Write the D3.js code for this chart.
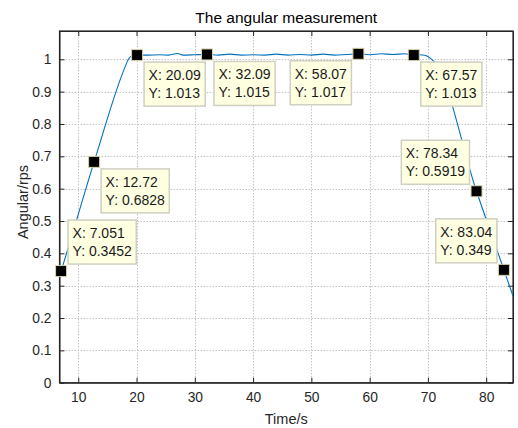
<!DOCTYPE html>
<html>
<head>
<meta charset="utf-8">
<script src="https://cdn.jsdelivr.net/npm/d3@7"></script>
<style>
html,body{margin:0;padding:0;background:#fff;}
svg{display:block;font-family:"Liberation Sans",Arial,sans-serif;}
</style>
</head>
<body>
<svg id="chart" width="518" height="428"></svg>
<script>
// ---- data ----
const timeValues = [6.8, 7.051, 12.72, 18.0, 18.6, 19.2, 20.09, 22, 24, 25.5, 27, 28, 30, 32.09, 34, 36, 38, 40, 42, 44, 46, 48, 50, 52, 54, 56, 58.07, 60, 62, 64, 66, 67.57, 68.6, 69.6, 70.2, 70.7, 71.2, 78.34, 83.04, 84.6];
const angularValues = [0.331, 0.3452, 0.6828, 0.975, 1.0, 1.011, 1.013, 1.013, 1.014, 1.013, 1.018, 1.013, 1.014, 1.015, 1.013, 1.016, 1.013, 1.014, 1.013, 1.016, 1.013, 1.015, 1.013, 1.016, 1.013, 1.015, 1.017, 1.014, 1.017, 1.015, 1.017, 1.013, 1.014, 1.012, 1.006, 0.999, 0.990, 0.5919, 0.349, 0.268];
const tipX = [7.051, 12.72, 20.09, 32.09, 58.07, 67.57, 78.34, 83.04];
const tipY = [0.3452, 0.6828, 1.013, 1.015, 1.017, 1.013, 0.5919, 0.349];
const tipXLabels = ["7.051", "12.72", "20.09", "32.09", "58.07", "67.57", "78.34", "83.04"];
const tipYLabels = ["0.3452", "0.6828", "1.013", "1.015", "1.017", "1.013", "0.5919", "0.349"];
// placement of each datatip box relative to its marker: "dr" down-right, "dl" down-left, "ur" up-right, "ul" up-left
const tipPlacement = ["ur", "dr", "dr", "dr", "dl", "dr", "ul", "ul"];
const xTicks = [10, 20, 30, 40, 50, 60, 70, 80];
const yTicks = [0, 0.1, 0.2, 0.3, 0.4, 0.5, 0.6, 0.7, 0.8, 0.9, 1];
const xDomain = [6.78, 84.6];
const yDomain = [0, 1.0875];

// ---- layout ----
const svg = d3.select("#chart");
const L = 59.5, R = 513, T = 31, B = 382.7;
const x = d3.scaleLinear().domain(xDomain).range([L, R]);
const y = d3.scaleLinear().domain(yDomain).range([B, T]);

// grid
const grid = svg.append("g").attr("stroke", "#c4c4c4").attr("stroke-width", 1).attr("stroke-dasharray", "1.5,1.5");
grid.selectAll("line.gx").data(xTicks).join("line")
  .attr("x1", d => Math.round(x(d)) + 0.5).attr("x2", d => Math.round(x(d)) + 0.5)
  .attr("y1", T).attr("y2", B);
grid.selectAll("line.gy").data(yTicks).join("line")
  .attr("y1", d => Math.round(y(d)) + 0.5).attr("y2", d => Math.round(y(d)) + 0.5)
  .attr("x1", L).attr("x2", R);

// axes (MATLAB-like, inward ticks, box)
const fmtY = d => d === 0 ? "0" : d3.format("~g")(d);
const axB = d3.axisBottom(x).tickValues(xTicks).tickSizeInner(-5).tickSizeOuter(0).tickPadding(10);
const axT = d3.axisTop(x).tickValues(xTicks).tickSizeInner(-5).tickSizeOuter(0).tickFormat("");
const axL = d3.axisLeft(y).tickValues(yTicks).tickSizeInner(-5).tickSizeOuter(0).tickPadding(8).tickFormat(fmtY);
const axR = d3.axisRight(y).tickValues(yTicks).tickSizeInner(-5).tickSizeOuter(0).tickFormat("");

function style(g) {
  g.select(".domain").attr("stroke", "#262626");
  g.selectAll(".tick line").attr("stroke", "#262626");
  g.selectAll(".tick text").attr("fill", "#262626").attr("font-size", 13.8)
    .attr("font-family", "'Liberation Sans', Arial, sans-serif");
}
svg.append("g").attr("transform", `translate(0,${B})`).call(axB).call(style);
svg.append("g").attr("transform", `translate(0,${T})`).call(axT).call(style);
svg.append("g").attr("transform", `translate(${L},0)`).call(axL).call(style);
svg.append("g").attr("transform", `translate(${R},0)`).call(axR).call(style);
svg.append("rect").attr("x", L).attr("y", T).attr("width", R - L).attr("height", B - T)
  .attr("fill", "none").attr("stroke", "#262626").attr("stroke-width", 1.2);

// clip
svg.append("clipPath").attr("id", "clip").append("rect")
  .attr("x", L).attr("y", T).attr("width", R - L).attr("height", B - T);

// line
const pts = timeValues.map((t, i) => [t, angularValues[i]]);
svg.append("path").datum(pts)
  .attr("clip-path", "url(#clip)")
  .attr("fill", "none").attr("stroke", "#0072BD").attr("stroke-width", 1.1)
  .attr("d", d3.line().x(d => x(d[0])).y(d => y(d[1])).curve(d3.curveMonotoneX));

// datatips
const tips = svg.append("g");
tipX.forEach((tx, i) => {
  const mx = x(tx), my = y(tipY[i]);
  const g = tips.append("g");
  const l1 = "X: " + tipXLabels[i], l2 = "Y: " + tipYLabels[i];
  const t1 = g.append("text").attr("font-size", 14).text(l1);
  const t2 = g.append("text").attr("font-size", 14).text(l2);
  const tw = Math.max(t1.node().getComputedTextLength(), t2.node().getComputedTextLength());
  const bw = tw + 9, bh = 44, off = 7;
  const p = tipPlacement[i];
  const bx = p[1] === "r" ? mx + off : mx - off - bw;
  const by = p[0] === "d" ? my + off : my - off - bh;
  g.insert("rect", "text").attr("x", bx).attr("y", by).attr("width", bw).attr("height", bh)
    .attr("fill", "#ffffe1").attr("stroke", "#cfcfc4").attr("stroke-width", 1.5);
  t1.attr("x", bx + 4.5).attr("y", by + 18).attr("fill", "#1a1a1a");
  t2.attr("x", bx + 4.5).attr("y", by + 36).attr("fill", "#1a1a1a");
  tips.append("rect").attr("x", mx - 5.5).attr("y", my - 5.5).attr("width", 11).attr("height", 11)
    .attr("fill", "#000").attr("stroke", "#d8d3a8").attr("stroke-width", 1);
});

// title and labels
svg.append("text").attr("x", (L + R) / 2).attr("y", 23).attr("text-anchor", "middle")
  .attr("font-size", 15.5).attr("fill", "#000").text("The angular measurement");
svg.append("text").attr("x", (L + R) / 2).attr("y", 424).attr("text-anchor", "middle")
  .attr("font-size", 14.5).attr("fill", "#262626").text("Time/s");
svg.append("text").attr("transform", "translate(28,202) rotate(-90)").attr("text-anchor", "middle")
  .attr("font-size", 14.5).attr("fill", "#262626").text("Angular/rps");
</script>
</body>
</html>
